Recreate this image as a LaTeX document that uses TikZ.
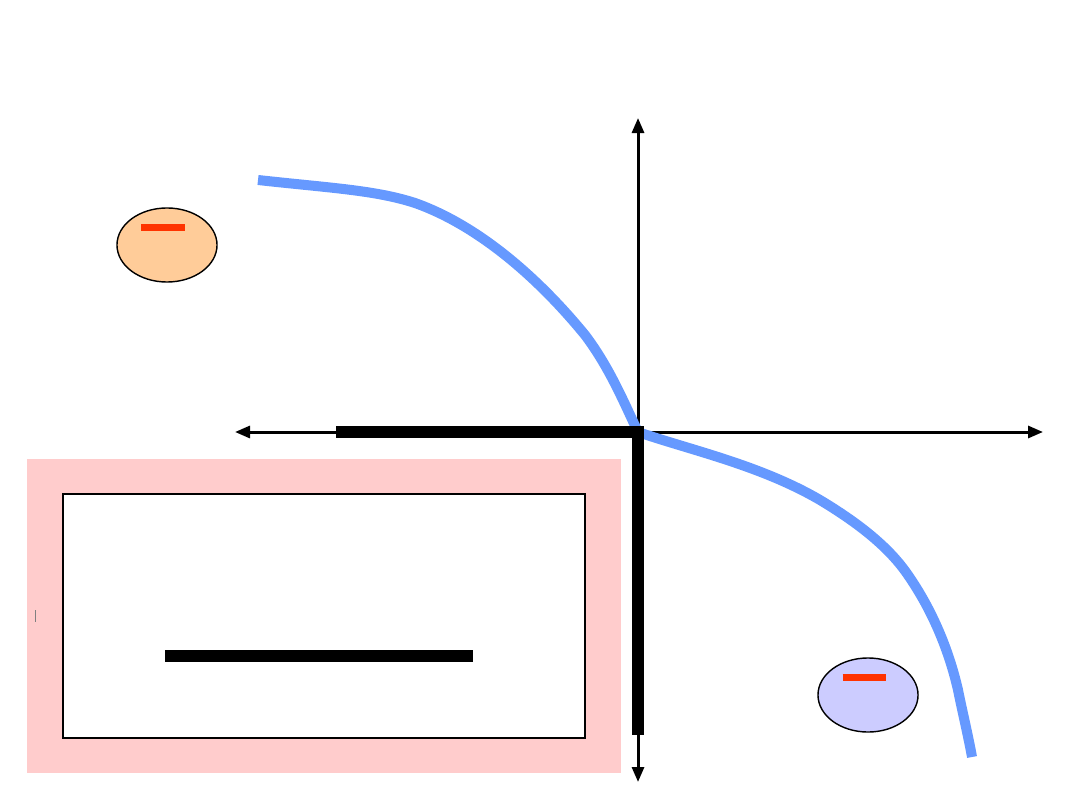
\documentclass[tikz,border=0pt]{standalone}
\usepackage{amsmath}
\usepackage{xcolor}
\usetikzlibrary{shapes.geometric, arrows.meta}
\definecolor{curveblue}{HTML}{6699FF}
\definecolor{boxpink}{HTML}{FFCCCC}
\definecolor{minusred}{HTML}{FF3300}
\definecolor{peach}{HTML}{FFCC99}
\definecolor{lilac}{HTML}{CCCCFF}

\begin{document}
\begin{tikzpicture}[x=0.01cm, y=-0.01cm,
    charge/.style={ellipse, draw, thin, minimum width=1cm, minimum height=0.74cm, inner sep=0pt},
    bar/.style={line width=0.12cm},
    axis/.style={line width=0.03cm, {Triangle[length=0.15cm,width=0.12cm]}-{Triangle[length=0.15cm,width=0.12cm]}}]
                    \useasboundingbox (0,0) rectangle (1080,810);

                    % boxes
                    \node[fill=boxpink, minimum width=5.94cm, minimum height=3.14cm, inner sep=0pt] (outer) at (324,616) {};
                    \node[fill=white, draw, thin, minimum width=5.22cm, minimum height=2.44cm, inner sep=0pt] (inner) at (324,616) {};
                    \draw[gray, line width=0.01cm] (35,610) -- (35,622);

                    % axes
                    \coordinate (o) at (638,432);
                    \coordinate (left) at (235,432);
                    \coordinate (right) at (1043,432);
                    \coordinate (top) at (638,118);
                    \coordinate (bottom) at (638,782);
                    \draw[axis] (left) -- (right);
                    \draw[axis] (top) -- (bottom);

                    % curve
                    \draw[curveblue, line width=0.1cm] (258,180) .. controls (330,188) and (375,190) .. (415,203)
                        .. controls (480,226) and (540,280) .. (585,335)
                        .. controls (610,368) and (625,405) .. (o)
                        .. controls (690,450) and (760,465) .. (820,500)
                        .. controls (870,530) and (895,555) .. (910,578)
                        .. controls (935,615) and (950,655) .. (958,690)
                        .. controls (962,710) and (968,735) .. (972,757);

                    % thick lines
                    \coordinate (hstart) at (336,432);
                    \coordinate (vend) at (638,735);
                    \coordinate (bl) at (165,656);
                    \coordinate (br) at (473,656);
                    \draw[bar] (hstart) -- (o) -- (vend);
                    \draw[bar] (bl) -- (br);

                    % charges
                    \foreach \name/\pos/\col in {neg1/{(167,245)}/peach, neg2/{(868,695)}/lilac} {
                        \node[charge, fill=\col] (\name) at \pos {};
                        \draw[minusred, line width=0.065cm] ([xshift=-0.255cm, yshift=0.175cm]\name.center) -- ([xshift=0.175cm, yshift=0.175cm]\name.center);
                    }
                \end{tikzpicture}
\end{document}
